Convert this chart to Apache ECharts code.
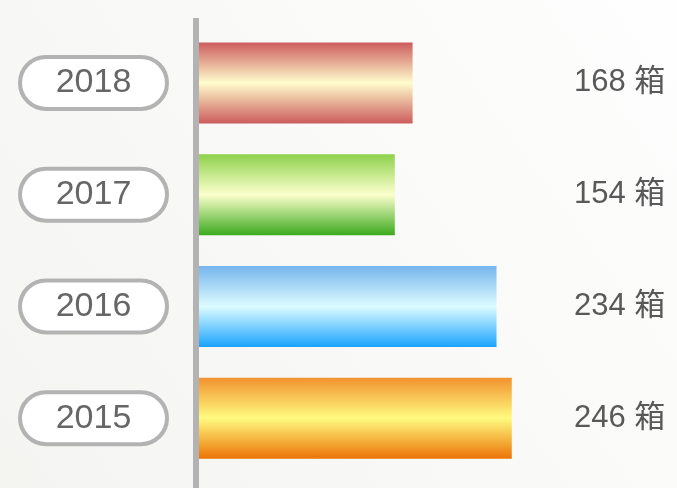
<!DOCTYPE html>
<html>
<head>
<meta charset="utf-8">
<script src="https://cdn.jsdelivr.net/npm/echarts@6/dist/echarts.min.js"></script>
<style>
  html, body { margin: 0; padding: 0; }
  #chart { width: 677px; height: 488px; }
</style>
</head>
<body>
<div id="chart"></div>
<script>
// data
const years = ["2015", "2016", "2017", "2018"];
const values = [246, 234, 154, 168];
const unit = "箱";
// [top, middle, bottom] per bar, bottom bar first like the categories
const barColors = [
  ["#f2922e", "#fffb80", "#ec7406"],
  ["#76b5ee", "#dcfcff", "#1ca3ff"],
  ["#8dd14c", "#fcffcc", "#3caa1e"],
  ["#cc5c5c", "#fffdcd", "#cc5c5c"],
];

const chart = echarts.init(document.getElementById("chart"));

const option = {
  backgroundColor: new echarts.graphic.LinearGradient(0, 1, 1, 0, [
    { offset: 0, color: "#f4f4f1" },
    { offset: 1, color: "#fefefe" },
  ]),
  grid: {
    left: 199,
    right: 122,
    top: 27,
    bottom: 14,
  },
  xAxis: {
    type: "value",
    min: 0,
    max: 280,
    show: false,
  },
  yAxis: [
    {
      type: "category",
      data: years,
      axisLine: { show: false },
      axisTick: { show: false },
      axisLabel: {
        margin: 34,
        formatter: "{a|{value}}",
        rich: {
          a: {
            width: 143,
            height: 48,
            lineHeight: 48,
            align: "center",
            fontSize: 34,
            fontFamily: "Arial, Liberation Sans, sans-serif",
            color: "#666",
            backgroundColor: "#fff",
            borderColor: "#b3b3b3",
            borderWidth: 4,
            borderRadius: 26,
          },
        },
      },
    },
    {
      type: "category",
      position: "right",
      data: years,
      axisLine: { show: false },
      axisTick: { show: false },
      axisLabel: {
        margin: 19,
        padding: [10, 0, 0, 0],
        fontSize: 31,
        color: "#595959",
        fontFamily: "Arial, Liberation Sans, Noto Sans CJK SC, sans-serif",
        formatter: (v, i) => values[i] + " " + unit,
      },
    },
  ],
  graphic: [
    {
      type: "rect",
      shape: { x: 193, y: 18, width: 6, height: 470 },
      style: { fill: "#b3b3b3" },
      z: 10,
    },
  ],
  series: [
    {
      type: "bar",
      data: values.map((v, i) => ({
        value: v,
        itemStyle: {
          color: new echarts.graphic.LinearGradient(0, 0, 0, 1, [
            { offset: 0, color: barColors[i][0] },
            { offset: 0.5, color: barColors[i][1] },
            { offset: 1, color: barColors[i][2] },
          ]),
        },
      })),
      barWidth: 81,
      silent: true,
    },
  ],
};

chart.setOption(option);
</script>
</body>
</html>
